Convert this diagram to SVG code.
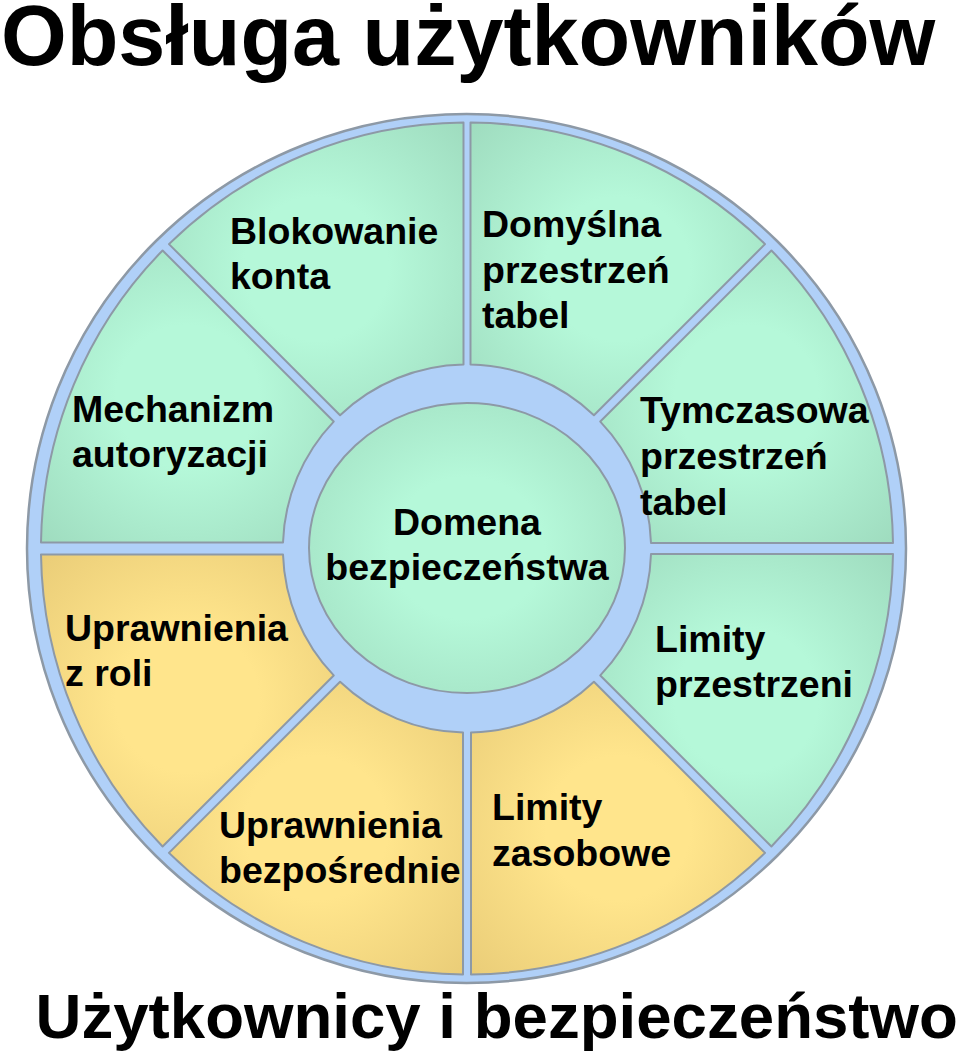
<svg xmlns="http://www.w3.org/2000/svg" width="960" height="1058" viewBox="0 0 960 1058">
<style>
text{font-family:"Liberation Sans",Arial,sans-serif;font-weight:bold;fill:#000}
.lbl{font-size:37.5px}
.seg{stroke:#8d99a6;stroke-width:2;stroke-linejoin:round}
.g{fill:url(#gG)}
.y{fill:url(#gY)}
</style>
<defs>
<radialGradient id="gG" cx="0.5" cy="0.5" r="0.7">
<stop offset="0.35" stop-color="#b5f8d9"/>
<stop offset="1" stop-color="#9fdcbf"/>
</radialGradient>
<radialGradient id="gY" cx="0.5" cy="0.5" r="0.7">
<stop offset="0.35" stop-color="#ffe58c"/>
<stop offset="1" stop-color="#eacd78"/>
</radialGradient>
</defs>
<rect width="960" height="1058" fill="#fff"/>
<text x="1" y="65" style="font-size:84.5px">Obsługa użytkowników</text>
<ellipse id="ring" cx="466.5" cy="548.5" rx="439.5" ry="434.5" fill="#b0d0f8" stroke="#8d99a6" stroke-width="2.5"/>
<g id="domyslna">
<path class="seg g" d="M470.5,364.5 L470.5,122.5 A426,426 0 0 1 765.05,244.09 L593.93,415.21 A184,184 0 0 0 470.5,364.5 Z"/>
<text class="lbl" x="482" y="237">Domyślna</text>
<text class="lbl" x="482" y="282.5">przestrzeń</text>
<text class="lbl" x="482" y="328">tabel</text>
</g>
<g id="tymczasowa">
<path class="seg g" d="M600.29,421.57 L771.41,250.45 A426,426 0 0 1 893,543 L651,543 A184,184 0 0 0 600.29,421.57 Z"/>
<text class="lbl" x="640" y="423">Tymczasowa</text>
<text class="lbl" x="640" y="469">przestrzeń</text>
<text class="lbl" x="640" y="515">tabel</text>
</g>
<g id="limity-przestrzeni">
<path class="seg g" d="M651,554 L893,554 A426,426 0 0 1 771.41,846.55 L600.29,675.43 A184,184 0 0 0 651,554 Z"/>
<text class="lbl" x="655" y="652">Limity</text>
<text class="lbl" x="655" y="697">przestrzeni</text>
</g>
<g id="limity-zasobowe">
<path class="seg y" d="M593.93,681.79 L765.05,852.91 A426,426 0 0 1 471,974.5 L471,732.5 A184,184 0 0 0 593.93,681.79 Z"/>
<text class="lbl" x="492" y="820">Limity</text>
<text class="lbl" x="492" y="866">zasobowe</text>
</g>
<g id="uprawnienia-bezposrednie">
<path class="seg y" d="M463,732.5 L463,974.5 A426,426 0 0 1 168.95,852.91 L340.07,681.79 A184,184 0 0 0 463,732.5 Z"/>
<text class="lbl" x="219" y="838">Uprawnienia</text>
<text class="lbl" x="219" y="883">bezpośrednie</text>
</g>
<g id="uprawnienia-z-roli">
<path class="seg y" d="M333.71,675.43 L162.59,846.55 A426,426 0 0 1 41,554.5 L283,554.5 A184,184 0 0 0 333.71,675.43 Z"/>
<text class="lbl" x="65" y="641">Uprawnienia</text>
<text class="lbl" x="65" y="686">z roli</text>
</g>
<g id="mechanizm">
<path class="seg g" d="M283,542.5 L41,542.5 A426,426 0 0 1 162.59,250.45 L333.71,421.57 A184,184 0 0 0 283,542.5 Z"/>
<text class="lbl" x="72" y="422">Mechanizm</text>
<text class="lbl" x="72" y="467">autoryzacji</text>
</g>
<g id="blokowanie">
<path class="seg g" d="M340.07,415.21 L168.95,244.09 A426,426 0 0 1 463.5,122.5 L463.5,364.5 A184,184 0 0 0 340.07,415.21 Z"/>
<text class="lbl" x="230" y="244">Blokowanie</text>
<text class="lbl" x="230" y="289">konta</text>
</g>
<g id="domena">
<ellipse class="seg g" cx="467" cy="548" rx="158" ry="145"/>
<text class="lbl" x="467" y="535" text-anchor="middle">Domena</text>
<text class="lbl" x="467" y="580" text-anchor="middle">bezpieczeństwa</text>
</g>
<text x="35.5" y="1038" style="font-size:63.6px">Użytkownicy i bezpieczeństwo</text>
</svg>
